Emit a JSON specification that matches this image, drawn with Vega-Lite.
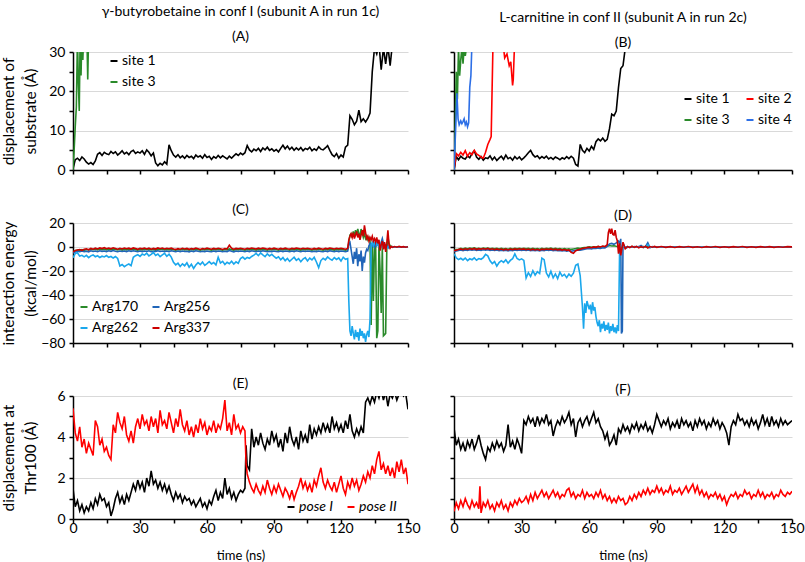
{
"$schema": "https://vega.github.io/schema/vega-lite/v6.json",
"padding": {"left": 1, "top": 5, "right": 0, "bottom": 0},
"background": "white",
"columns": 2,
"bounds": "flush",
"spacing": {"row": 53, "column": 46},
"resolve": {"scale": {"color": "independent"}},
"config": {
 "font": "Lato",
 "view": {"stroke": null},
 "axis": {"domainColor": "#000000", "domainWidth": 1.5, "tickColor": "#000000", "tickWidth": 1.5, "tickSize": 4, "labelFont": "Lato", "labelFontSize": 14, "labelColor": "#000000", "labelPadding": 4, "gridColor": "#d9d9d9", "gridWidth": 1, "titleFont": "Lato", "titleFontSize": 15.5, "titleLineHeight": 21.5, "titleFontWeight": "normal", "titleColor": "#000000", "labelFlush": false, "labelOverlap": false},
 "legend": {"labelFont": "Lato", "labelFontSize": 14, "labelColor": "#000000", "symbolType": "stroke", "symbolStrokeWidth": 2, "symbolSize": 49, "labelOffset": 1, "padding": 0, "rowPadding": 7},
 "title": {"font": "Lato", "fontWeight": "normal", "color": "#000000", "fontSize": 14, "subtitleFont": "Lato", "subtitleColor": "#000000", "subtitleFontSize": 14}
},
"datasets": {
"A": [
{"t":0,"site 1":0.3,"site 3":0},{"t":0.5,"site 3":5},{"t":1,"site 1":2.6,"site 3":11},{"t":1.5,"site 3":16},{"t":2,"site 1":3.0,"site 3":34},{"t":2.4,"site 3":22},{"t":2.8,"site 3":15},{"t":3,"site 1":2.4},{"t":3.2,"site 3":34},{"t":3.6,"site 3":24},{"t":4,"site 1":3.3,"site 3":35},{"t":4.4,"site 3":28},{"t":4.8,"site 3":35},{"t":5,"site 1":2.8},{"t":5.5,"site 3":34},{"t":6,"site 1":2.0},{"t":6.2,"site 3":35},{"t":6.6,"site 3":23},{"t":7,"site 1":1.5,"site 3":35},
{"t":8,"site 1":1.9},{"t":9,"site 1":1.4},{"t":10,"site 1":2.3},{"t":11,"site 1":4.0},{"t":12,"site 1":4.4},{"t":13,"site 1":3.7},{"t":14,"site 1":4.5},{"t":15,"site 1":4.1},{"t":16,"site 1":3.9},{"t":17,"site 1":4.7},{"t":18,"site 1":4.2},{"t":19,"site 1":4.6},{"t":20,"site 1":3.8},{"t":21,"site 1":4.3},{"t":22,"site 1":4.9},{"t":23,"site 1":4.1},{"t":24,"site 1":4.5},{"t":25,"site 1":3.9},{"t":26,"site 1":4.7},{"t":27,"site 1":5.0},{"t":28,"site 1":4.2},{"t":29,"site 1":4.6},{"t":30,"site 1":4.3},{"t":31,"site 1":4.9},{"t":32,"site 1":4.0},{"t":33,"site 1":5.1},{"t":34,"site 1":4.5},{"t":35,"site 1":3.6},{"t":36,"site 1":4.3},{"t":37,"site 1":1.8},{"t":38,"site 1":1.1},{"t":39,"site 1":1.7},{"t":40,"site 1":1.3},{"t":41,"site 1":2.1},{"t":42,"site 1":1.5},{"t":43,"site 1":6.4},{"t":44,"site 1":4.9},{"t":45,"site 1":3.8},{"t":46,"site 1":3.3},{"t":47,"site 1":3.9},{"t":48,"site 1":3.1},{"t":49,"site 1":3.6},{"t":50,"site 1":3.0},{"t":51,"site 1":3.7},{"t":52,"site 1":3.2},{"t":53,"site 1":3.5},{"t":54,"site 1":2.9},{"t":55,"site 1":3.8},{"t":56,"site 1":3.3},{"t":57,"site 1":3.6},{"t":58,"site 1":3.0},{"t":59,"site 1":3.9},{"t":60,"site 1":3.2},{"t":61,"site 1":3.5},{"t":62,"site 1":2.7},{"t":63,"site 1":3.4},{"t":64,"site 1":3.0},{"t":65,"site 1":3.7},{"t":66,"site 1":3.1},{"t":67,"site 1":3.6},{"t":68,"site 1":3.2},{"t":69,"site 1":2.8},{"t":70,"site 1":3.5},{"t":71,"site 1":3.0},{"t":72,"site 1":3.6},{"t":73,"site 1":4.1},{"t":74,"site 1":3.7},{"t":75,"site 1":4.3},{"t":76,"site 1":3.9},{"t":77,"site 1":4.4},{"t":78,"site 1":6.2},{"t":79,"site 1":5.1},{"t":80,"site 1":4.6},{"t":81,"site 1":5.3},{"t":82,"site 1":4.9},{"t":83,"site 1":5.5},{"t":84,"site 1":4.7},{"t":85,"site 1":5.6},{"t":86,"site 1":5.1},{"t":87,"site 1":5.8},{"t":88,"site 1":5.0},{"t":89,"site 1":5.4},{"t":90,"site 1":4.8},{"t":91,"site 1":5.2},{"t":92,"site 1":4.6},{"t":93,"site 1":5.5},{"t":94,"site 1":6.3},{"t":95,"site 1":5.4},{"t":96,"site 1":6.1},{"t":97,"site 1":5.2},{"t":98,"site 1":5.8},{"t":99,"site 1":5.0},{"t":100,"site 1":5.6},{"t":101,"site 1":5.1},{"t":102,"site 1":5.7},{"t":103,"site 1":4.9},{"t":104,"site 1":5.5},{"t":105,"site 1":5.2},{"t":106,"site 1":5.8},{"t":107,"site 1":4.9},{"t":108,"site 1":5.4},{"t":109,"site 1":5.0},{"t":110,"site 1":5.9},{"t":111,"site 1":5.3},{"t":112,"site 1":5.1},{"t":113,"site 1":5.6},{"t":114,"site 1":6.2},{"t":115,"site 1":5.0},{"t":116,"site 1":3.9},{"t":117,"site 1":3.4},{"t":118,"site 1":4.2},{"t":119,"site 1":3.0},{"t":120,"site 1":3.8},{"t":121,"site 1":3.3},{"t":122,"site 1":5.8},{"t":123,"site 1":6.3},{"t":124,"site 1":13.8},{"t":125,"site 1":12.9},{"t":126,"site 1":11.5},{"t":127,"site 1":12.4},{"t":128,"site 1":15.2},{"t":129,"site 1":12.3},{"t":130,"site 1":13.0},{"t":131,"site 1":12.2},{"t":132,"site 1":13.1},{"t":133,"site 1":14.5},{"t":134,"site 1":25},{"t":135,"site 1":31},{"t":136,"site 1":29.5},{"t":137,"site 1":32},{"t":138,"site 1":25.5},{"t":139,"site 1":31},{"t":140,"site 1":27},{"t":141,"site 1":31.5},{"t":142,"site 1":26.5},{"t":143,"site 1":32},{"t":144,"site 1":35},{"t":150,"site 1":36}
],
"B": [
{"t":0,"site 1":0,"site 2":0,"site 3":0,"site 4":0},{"t":0.5,"site 3":9},{"t":0.7,"site 4":10},{"t":1,"site 1":3.4,"site 2":4.2,"site 3":25},{"t":1.3,"site 4":19.5},{"t":1.5,"site 3":18},{"t":1.8,"site 4":13},{"t":2,"site 1":2.6,"site 2":3.6,"site 3":31},{"t":2.3,"site 4":11.5},{"t":2.5,"site 3":24},{"t":3,"site 1":3.5,"site 2":4.5,"site 3":28,"site 4":12.5},{"t":3.5,"site 3":31,"site 4":11.8},{"t":4,"site 1":3.0,"site 2":3.8,"site 3":27,"site 4":12.3},{"t":4.5,"site 3":31,"site 4":13.0},{"t":5,"site 1":2.8,"site 2":4.9,"site 3":29,"site 4":11.5},{"t":5.5,"site 3":31,"site 4":12.2},{"t":6,"site 1":3.6,"site 2":3.5,"site 3":34,"site 4":11},{"t":6.5,"site 4":12},{"t":7,"site 1":3.1,"site 2":4.4,"site 4":21},{"t":7.5,"site 4":24},{"t":8,"site 1":4.2,"site 2":3.9,"site 4":33},
{"t":9,"site 1":4.9,"site 2":5.0},{"t":10,"site 1":3.3,"site 2":4.1},{"t":11,"site 1":2.7,"site 2":3.7},{"t":12,"site 1":3.4,"site 2":3.3},{"t":13,"site 1":2.5,"site 2":3.0},{"t":14,"site 1":3.1,"site 2":4.5},{"t":15,"site 1":2.9,"site 2":6.5},{"t":16,"site 1":3.6,"site 2":7.8},{"t":16.5,"site 2":8.5},{"t":17,"site 1":2.6},{"t":17.3,"site 2":32},{"t":18,"site 1":3.3,"site 2":35},{"t":19,"site 1":2.4},{"t":20,"site 1":3.0},{"t":21,"site 1":3.5},{"t":22,"site 1":2.7,"site 2":31},{"t":22.5,"site 2":28.5},{"t":23,"site 1":3.8},{"t":23.5,"site 2":29.5},{"t":24,"site 1":2.9},{"t":24.5,"site 2":26.5},{"t":25,"site 1":3.2},{"t":25.2,"site 2":27.5},{"t":26,"site 1":2.5,"site 2":21.5},{"t":26.3,"site 2":23},{"t":26.8,"site 2":31},{"t":27,"site 1":3.4,"site 2":35},
{"t":28,"site 1":2.8},{"t":29,"site 1":3.3},{"t":30,"site 1":2.6},{"t":31,"site 1":3.1},{"t":32,"site 1":3.7},{"t":33,"site 1":4.4},{"t":34,"site 1":5.0},{"t":35,"site 1":3.9},{"t":36,"site 1":3.3},{"t":37,"site 1":3.6},{"t":38,"site 1":2.9},{"t":39,"site 1":3.4},{"t":40,"site 1":3.0},{"t":41,"site 1":3.5},{"t":42,"site 1":2.8},{"t":43,"site 1":3.2},{"t":44,"site 1":2.7},{"t":45,"site 1":3.3},{"t":46,"site 1":3.0},{"t":47,"site 1":2.6},{"t":48,"site 1":3.1},{"t":49,"site 1":2.8},{"t":50,"site 1":3.4},{"t":51,"site 1":2.9},{"t":52,"site 1":3.5},{"t":53,"site 1":3.0},{"t":54,"site 1":1.4},{"t":55,"site 1":1.0},{"t":56,"site 1":6.5},{"t":57,"site 1":5.0},{"t":58,"site 1":4.4},{"t":59,"site 1":5.5},{"t":60,"site 1":4.8},{"t":61,"site 1":6.0},{"t":62,"site 1":5.2},{"t":63,"site 1":7.2},{"t":64,"site 1":7.9},{"t":65,"site 1":7.4},{"t":66,"site 1":8.1},{"t":67,"site 1":7.3},{"t":68,"site 1":7.8},{"t":69,"site 1":10.5},{"t":70,"site 1":14.2},{"t":71,"site 1":13.8},{"t":72,"site 1":15.0},{"t":73,"site 1":21},{"t":74,"site 1":25.8},{"t":75,"site 1":26.5},{"t":76,"site 1":31},{"t":77,"site 1":35}
],
"C": [
{"t":0,"Arg170":-4,"Arg256":-5,"Arg262":-9,"Arg337":-4},{"t":1,"Arg170":-3.2,"Arg256":-4.1,"Arg262":-5.5,"Arg337":-3.0},{"t":2,"Arg170":-2.6,"Arg256":-3.6,"Arg262":-4.8,"Arg337":-2.5},{"t":3,"Arg170":-3.0,"Arg256":-3.9,"Arg262":-7.6,"Arg337":-2.1},{"t":4,"Arg170":-2.2,"Arg256":-3.3,"Arg262":-6.9,"Arg337":-2.8},{"t":5,"Arg170":-2.8,"Arg256":-3.8,"Arg262":-8.2,"Arg337":-1.9},{"t":6,"Arg170":-2.1,"Arg256":-3.5,"Arg262":-7.0,"Arg337":-1.5},{"t":7,"Arg170":-2.5,"Arg256":-4.0,"Arg262":-8.9,"Arg337":-2.3},{"t":8,"Arg170":-1.8,"Arg256":-3.2,"Arg262":-7.4,"Arg337":-1.2},{"t":9,"Arg170":-2.3,"Arg256":-3.7,"Arg262":-6.6,"Arg337":-1.8},{"t":10,"Arg170":-1.9,"Arg256":-3.4,"Arg262":-8.1,"Arg337":-1.0},{"t":11,"Arg170":-2.4,"Arg256":-3.9,"Arg262":-7.3,"Arg337":-1.6},{"t":12,"Arg170":-1.7,"Arg256":-3.1,"Arg262":-8.8,"Arg337":-0.8},{"t":13,"Arg170":-2.2,"Arg256":-3.6,"Arg262":-7.7,"Arg337":-1.3},{"t":14,"Arg170":-1.8,"Arg256":-3.3,"Arg262":-8.3,"Arg337":-0.6},{"t":15,"Arg170":-2.5,"Arg256":-3.8,"Arg262":-7.1,"Arg337":-1.4},{"t":16,"Arg170":-1.9,"Arg256":-3.2,"Arg262":-8.6,"Arg337":-0.9},{"t":17,"Arg170":-2.3,"Arg256":-3.6,"Arg262":-7.9,"Arg337":-1.5},{"t":18,"Arg170":-1.6,"Arg256":-3.0,"Arg262":-9.2,"Arg337":-0.7},{"t":19,"Arg170":-2.1,"Arg256":-3.5,"Arg262":-8.0,"Arg337":-1.2},{"t":20,"Arg170":-2.4,"Arg256":-3.9,"Arg262":-9.5,"Arg337":-1.8},{"t":21,"Arg170":-1.9,"Arg256":-3.4,"Arg262":-15.8,"Arg337":-1.1},{"t":22,"Arg170":-2.6,"Arg256":-3.7,"Arg262":-14.6,"Arg337":-1.6},{"t":23,"Arg170":-2.0,"Arg256":-3.3,"Arg262":-16.4,"Arg337":-0.9},{"t":24,"Arg170":-2.4,"Arg256":-3.8,"Arg262":-15.1,"Arg337":-1.4},{"t":25,"Arg170":-1.8,"Arg256":-3.2,"Arg262":-14.2,"Arg337":-1.0},{"t":26,"Arg170":-2.3,"Arg256":-3.6,"Arg262":-15.5,"Arg337":-1.7},{"t":27,"Arg170":-1.7,"Arg256":-3.1,"Arg262":-8.6,"Arg337":-0.8},{"t":28,"Arg170":-2.2,"Arg256":-3.5,"Arg262":-7.2,"Arg337":-1.3},{"t":29,"Arg170":-2.6,"Arg256":-3.9,"Arg262":-6.4,"Arg337":-1.9},{"t":30,"Arg170":-2.0,"Arg256":-3.4,"Arg262":-7.8,"Arg337":-1.1},{"t":31,"Arg170":-2.5,"Arg256":-3.8,"Arg262":-5.9,"Arg337":-1.5},{"t":32,"Arg170":-1.9,"Arg256":-3.3,"Arg262":-6.8,"Arg337":-0.9},{"t":33,"Arg170":-2.3,"Arg256":-3.7,"Arg262":-5.1,"Arg337":-1.6},{"t":34,"Arg170":-1.8,"Arg256":-3.2,"Arg262":-7.5,"Arg337":-1.0},{"t":35,"Arg170":-2.4,"Arg256":-3.9,"Arg262":-6.2,"Arg337":-1.8},{"t":36,"Arg170":-2.0,"Arg256":-3.5,"Arg262":-4.6,"Arg337":-1.2},{"t":37,"Arg170":-2.6,"Arg256":-3.6,"Arg262":-7.0,"Arg337":-1.7},{"t":38,"Arg170":-1.9,"Arg256":-3.1,"Arg262":-5.8,"Arg337":-0.8},{"t":39,"Arg170":-2.3,"Arg256":-3.7,"Arg262":-8.1,"Arg337":-1.4},{"t":40,"Arg170":-1.7,"Arg256":-3.3,"Arg262":-6.5,"Arg337":-0.9},{"t":41,"Arg170":-2.5,"Arg256":-3.8,"Arg262":-5.3,"Arg337":-1.6},{"t":42,"Arg170":-2.0,"Arg256":-3.4,"Arg262":-7.7,"Arg337":-1.1},{"t":43,"Arg170":-2.4,"Arg256":-3.9,"Arg262":-6.0,"Arg337":-1.5},{"t":44,"Arg170":-1.8,"Arg256":-3.2,"Arg262":-8.4,"Arg337":-1.0},{"t":45,"Arg170":-2.2,"Arg256":-3.6,"Arg262":-12.8,"Arg337":-1.7},{"t":46,"Arg170":-2.7,"Arg256":-3.9,"Arg262":-14.9,"Arg337":-2.0},{"t":47,"Arg170":-2.1,"Arg256":-3.4,"Arg262":-13.5,"Arg337":-1.4},{"t":48,"Arg170":-2.5,"Arg256":-3.8,"Arg262":-16.2,"Arg337":-1.8},{"t":49,"Arg170":-1.9,"Arg256":-3.3,"Arg262":-14.0,"Arg337":-1.1},{"t":50,"Arg170":-2.4,"Arg256":-3.7,"Arg262":-15.6,"Arg337":-1.6},{"t":51,"Arg170":-2.0,"Arg256":-3.5,"Arg262":-13.2,"Arg337":-1.2},{"t":52,"Arg170":-2.6,"Arg256":-4.0,"Arg262":-16.8,"Arg337":-1.9},{"t":53,"Arg170":-2.1,"Arg256":-3.4,"Arg262":-14.4,"Arg337":-1.3},{"t":54,"Arg170":-2.5,"Arg256":-3.8,"Arg262":-17.9,"Arg337":-1.7},{"t":55,"Arg170":-1.9,"Arg256":-3.2,"Arg262":-15.0,"Arg337":-0.9},{"t":56,"Arg170":-2.3,"Arg256":-3.6,"Arg262":-13.1,"Arg337":-1.5},{"t":57,"Arg170":-2.7,"Arg256":-3.9,"Arg262":-14.7,"Arg337":-2.1},{"t":58,"Arg170":-2.0,"Arg256":-3.5,"Arg262":-12.5,"Arg337":-1.3},{"t":59,"Arg170":-2.4,"Arg256":-3.8,"Arg262":-15.3,"Arg337":-1.6},{"t":60,"Arg170":-1.8,"Arg256":-3.3,"Arg262":-13.8,"Arg337":-1.0},{"t":61,"Arg170":-2.2,"Arg256":-3.7,"Arg262":-12.2,"Arg337":-1.4},{"t":62,"Arg170":-2.6,"Arg256":-4.0,"Arg262":-14.1,"Arg337":-1.9},{"t":63,"Arg170":-2.0,"Arg256":-3.4,"Arg262":-12.9,"Arg337":-1.2},{"t":64,"Arg170":-2.4,"Arg256":-3.8,"Arg262":-15.0,"Arg337":-1.7},{"t":65,"Arg170":-1.9,"Arg256":-3.3,"Arg262":-8.6,"Arg337":-1.1},{"t":66,"Arg170":-2.3,"Arg256":-3.6,"Arg262":-13.4,"Arg337":-1.5},{"t":67,"Arg170":-2.7,"Arg256":-3.9,"Arg262":-12.0,"Arg337":-2.0},{"t":68,"Arg170":-2.1,"Arg256":-3.5,"Arg262":-14.6,"Arg337":-1.3},{"t":69,"Arg170":-2.5,"Arg256":-3.8,"Arg262":-12.7,"Arg337":-1.6},{"t":70,"Arg170":-1.6,"Arg256":-3.0,"Arg262":-13.9,"Arg337":1.5},{"t":71,"Arg170":-2.2,"Arg256":-3.6,"Arg262":-11.8,"Arg337":-1.0},{"t":72,"Arg170":-2.6,"Arg256":-4.0,"Arg262":-14.2,"Arg337":-1.8},{"t":73,"Arg170":-2.0,"Arg256":-3.4,"Arg262":-12.4,"Arg337":-1.2},{"t":74,"Arg170":-2.4,"Arg256":-3.7,"Arg262":-13.6,"Arg337":-1.5},{"t":75,"Arg170":-1.9,"Arg256":-3.3,"Arg262":-9.6,"Arg337":-1.0},{"t":76,"Arg170":-2.3,"Arg256":-3.6,"Arg262":-8.4,"Arg337":-1.4},{"t":77,"Arg170":-2.6,"Arg256":-3.9,"Arg262":-10.1,"Arg337":-1.8},{"t":78,"Arg170":-2.0,"Arg256":-3.4,"Arg262":-8.7,"Arg337":-1.1},{"t":79,"Arg170":-2.4,"Arg256":-3.8,"Arg262":-9.4,"Arg337":-1.5},{"t":80,"Arg170":-1.8,"Arg256":-3.2,"Arg262":-7.9,"Arg337":-0.9},{"t":81,"Arg170":-2.2,"Arg256":-3.6,"Arg262":-6.8,"Arg337":-1.3},{"t":82,"Arg170":-2.6,"Arg256":-3.9,"Arg262":-5.4,"Arg337":-1.7},{"t":83,"Arg170":-2.0,"Arg256":-3.3,"Arg262":-7.2,"Arg337":-1.0},{"t":84,"Arg170":-2.4,"Arg256":-3.7,"Arg262":-4.9,"Arg337":-1.4},{"t":85,"Arg170":-1.9,"Arg256":-3.2,"Arg262":-6.6,"Arg337":-0.8},{"t":86,"Arg170":-2.3,"Arg256":-3.6,"Arg262":-8.0,"Arg337":-1.3},{"t":87,"Arg170":-2.7,"Arg256":-4.0,"Arg262":-5.7,"Arg337":-1.8},{"t":88,"Arg170":-2.1,"Arg256":-3.5,"Arg262":-7.4,"Arg337":-1.2},{"t":89,"Arg170":-2.5,"Arg256":-3.8,"Arg262":-6.1,"Arg337":-1.6},{"t":90,"Arg170":-1.9,"Arg256":-3.3,"Arg262":-7.8,"Arg337":-1.0},{"t":91,"Arg170":-2.3,"Arg256":-3.7,"Arg262":-9.3,"Arg337":-1.4},{"t":92,"Arg170":-2.7,"Arg256":-4.0,"Arg262":-8.1,"Arg337":-1.9},{"t":93,"Arg170":-2.1,"Arg256":-3.4,"Arg262":-10.6,"Arg337":-1.2},{"t":94,"Arg170":-2.5,"Arg256":-3.8,"Arg262":-8.8,"Arg337":-1.6},{"t":95,"Arg170":-1.9,"Arg256":-3.3,"Arg262":-11.4,"Arg337":-1.0},{"t":96,"Arg170":-2.3,"Arg256":-3.6,"Arg262":-9.5,"Arg337":-1.5},{"t":97,"Arg170":-2.6,"Arg256":-3.9,"Arg262":-12.0,"Arg337":-1.8},{"t":98,"Arg170":-2.0,"Arg256":-3.4,"Arg262":-10.2,"Arg337":-1.1},{"t":99,"Arg170":-2.4,"Arg256":-3.8,"Arg262":-8.5,"Arg337":-1.5},{"t":100,"Arg170":-1.8,"Arg256":-3.2,"Arg262":-11.1,"Arg337":-0.9},{"t":101,"Arg170":-2.2,"Arg256":-3.6,"Arg262":-9.7,"Arg337":-1.3},{"t":102,"Arg170":-2.6,"Arg256":-3.9,"Arg262":-12.3,"Arg337":-1.7},{"t":103,"Arg170":-2.0,"Arg256":-3.4,"Arg262":-10.0,"Arg337":-1.1},{"t":104,"Arg170":-2.4,"Arg256":-3.7,"Arg262":-8.9,"Arg337":-1.5},{"t":105,"Arg170":-1.9,"Arg256":-3.3,"Arg262":-11.6,"Arg337":-1.0},{"t":106,"Arg170":-2.3,"Arg256":-3.6,"Arg262":-9.2,"Arg337":-1.4},{"t":107,"Arg170":-2.7,"Arg256":-4.0,"Arg262":-10.8,"Arg337":-1.9},{"t":108,"Arg170":-2.1,"Arg256":-3.5,"Arg262":-8.6,"Arg337":-1.2},{"t":109,"Arg170":-2.5,"Arg256":-3.8,"Arg262":-12.5,"Arg337":-1.6},{"t":110,"Arg170":-1.9,"Arg256":-3.3,"Arg262":-17.2,"Arg337":-1.0},{"t":111,"Arg170":-2.3,"Arg256":-3.7,"Arg262":-11.3,"Arg337":-1.4},{"t":112,"Arg170":-2.6,"Arg256":-3.9,"Arg262":-9.4,"Arg337":-1.8},{"t":113,"Arg170":-2.0,"Arg256":-3.4,"Arg262":-10.7,"Arg337":-1.1},{"t":114,"Arg170":-2.4,"Arg256":-3.8,"Arg262":-8.3,"Arg337":-1.5},{"t":115,"Arg170":-1.8,"Arg256":-3.2,"Arg262":-9.9,"Arg337":-0.9},{"t":116,"Arg170":-2.2,"Arg256":-3.6,"Arg262":-11.0,"Arg337":-1.3},{"t":117,"Arg170":-2.6,"Arg256":-3.9,"Arg262":-8.8,"Arg337":-1.7},{"t":118,"Arg170":-2.0,"Arg256":-3.4,"Arg262":-10.4,"Arg337":-1.1},{"t":119,"Arg170":-2.4,"Arg256":-3.8,"Arg262":-9.1,"Arg337":-1.5},{"t":120,"Arg170":-1.9,"Arg256":-3.3,"Arg262":-11.7,"Arg337":-1.0},{"t":121,"Arg170":-2.3,"Arg256":-3.6,"Arg262":-8.5,"Arg337":-1.4},{"t":122,"Arg170":-2.7,"Arg256":-4.0,"Arg262":-10.2,"Arg337":-1.8},{"t":123,"Arg170":-2.2,"Arg256":-3.5,"Arg262":-9.6,"Arg337":-1.2},
{"t":123.5,"Arg170":4,"Arg256":3,"Arg262":-45,"Arg337":6},{"t":124,"Arg170":10,"Arg256":4,"Arg262":-70,"Arg337":9},{"t":124.5,"Arg170":11,"Arg256":-2,"Arg262":-74,"Arg337":11},{"t":125,"Arg170":8,"Arg256":-8,"Arg262":-66,"Arg337":8},{"t":125.5,"Arg170":13,"Arg256":-14,"Arg262":-72,"Arg337":12},{"t":126,"Arg170":9,"Arg256":-4,"Arg262":-77,"Arg337":7},{"t":126.5,"Arg170":14,"Arg256":-10,"Arg262":-69,"Arg337":10},{"t":127,"Arg170":10,"Arg256":-1,"Arg262":-75,"Arg337":13},{"t":127.5,"Arg170":15,"Arg256":-16,"Arg262":-71,"Arg337":8},{"t":128,"Arg170":11,"Arg256":-6,"Arg262":-78,"Arg337":11},{"t":128.5,"Arg170":9,"Arg256":-12,"Arg262":-68,"Arg337":6},{"t":129,"Arg170":15,"Arg256":-3,"Arg262":-74,"Arg337":10},{"t":129.5,"Arg170":12,"Arg256":-20,"Arg262":-70,"Arg337":14},{"t":130,"Arg170":8,"Arg256":-8,"Arg262":-76,"Arg337":9},{"t":130.5,"Arg170":11,"Arg256":-13,"Arg262":-72,"Arg337":18},{"t":131,"Arg170":7,"Arg256":-5,"Arg262":-79,"Arg337":12},{"t":131.5,"Arg170":9,"Arg256":-2,"Arg262":-73,"Arg337":7},{"t":132,"Arg170":6,"Arg256":-3,"Arg262":-70,"Arg337":9},{"t":132.5,"Arg170":8,"Arg256":1,"Arg262":-75,"Arg337":5},{"t":133,"Arg170":5,"Arg256":3,"Arg262":-60,"Arg337":8},{"t":133.5,"Arg170":-65,"Arg256":2,"Arg262":2,"Arg337":6},{"t":134,"Arg170":3,"Arg256":1,"Arg262":4,"Arg337":9},{"t":134.5,"Arg170":-45,"Arg256":3,"Arg262":1,"Arg337":5},{"t":135,"Arg170":2,"Arg256":0,"Arg262":3,"Arg337":7},{"t":135.5,"Arg170":4,"Arg256":2,"Arg262":5,"Arg337":4},{"t":136,"Arg170":-76,"Arg256":1,"Arg262":2,"Arg337":8},{"t":136.5,"Arg170":-70,"Arg256":3,"Arg262":4,"Arg337":3},{"t":137,"Arg170":4,"Arg256":2,"Arg262":1,"Arg337":6},{"t":137.5,"Arg170":-20,"Arg256":0,"Arg262":3,"Arg337":-3},{"t":138,"Arg170":-55,"Arg256":4,"Arg262":2,"Arg337":2},{"t":138.5,"Arg170":1,"Arg256":7,"Arg262":0,"Arg337":5},{"t":139,"Arg170":-74,"Arg256":3,"Arg262":2,"Arg337":-2},{"t":139.5,"Arg170":-73,"Arg256":1,"Arg262":0,"Arg337":4},{"t":140,"Arg170":-72,"Arg256":2,"Arg262":1,"Arg337":-4},{"t":140.5,"Arg170":-2,"Arg256":0,"Arg262":-1,"Arg337":3},{"t":141,"Arg170":8,"Arg256":1,"Arg262":0,"Arg337":14},{"t":141.5,"Arg170":3,"Arg256":-1,"Arg262":1,"Arg337":2},{"t":142,"Arg170":1,"Arg256":0,"Arg262":0,"Arg337":-1},{"t":142.5,"Arg170":0.5,"Arg256":0,"Arg262":0,"Arg337":0.5},
{"t":143,"Arg170":0.0,"Arg256":0.3,"Arg262":0.2,"Arg337":-0.3},{"t":144,"Arg170":0.2,"Arg256":-0.1,"Arg262":0.1,"Arg337":0.4},{"t":145,"Arg170":-0.1,"Arg256":0.2,"Arg262":-0.2,"Arg337":-0.2},{"t":146,"Arg170":0.1,"Arg256":-0.2,"Arg262":0.1,"Arg337":0.5},{"t":147,"Arg170":-0.2,"Arg256":0.1,"Arg262":0.0,"Arg337":-0.1},{"t":148,"Arg170":0.1,"Arg256":-0.1,"Arg262":0.2,"Arg337":0.3},{"t":149,"Arg170":0.0,"Arg256":0.2,"Arg262":-0.1,"Arg337":-0.2},{"t":150,"Arg170":0.1,"Arg256":0.0,"Arg262":0.1,"Arg337":0.2}
],
"D": [
{"t":0,"Arg170":-3,"Arg256":-4,"Arg262":-5.6,"Arg337":-3.2},{"t":1,"Arg170":-2.2,"Arg256":-3.3,"Arg262":-9.0,"Arg337":-2.6},{"t":2,"Arg170":-1.8,"Arg256":-2.9,"Arg262":-10.5,"Arg337":-2.0},{"t":3,"Arg170":-1.2,"Arg256":-2.5,"Arg262":-9.4,"Arg337":-1.6},{"t":4,"Arg170":-1.6,"Arg256":-3.0,"Arg262":-10.8,"Arg337":-2.2},{"t":5,"Arg170":-1.0,"Arg256":-2.4,"Arg262":-9.2,"Arg337":-1.5},{"t":6,"Arg170":-1.4,"Arg256":-2.8,"Arg262":-11.3,"Arg337":-2.0},{"t":7,"Arg170":-0.9,"Arg256":-2.2,"Arg262":-9.8,"Arg337":-1.3},{"t":8,"Arg170":-1.3,"Arg256":-2.7,"Arg262":-10.6,"Arg337":-1.9},{"t":9,"Arg170":-0.8,"Arg256":-2.3,"Arg262":-9.1,"Arg337":-1.2},{"t":10,"Arg170":-1.5,"Arg256":-2.9,"Arg262":-11.0,"Arg337":-2.1},{"t":11,"Arg170":-1.0,"Arg256":-2.4,"Arg262":-9.6,"Arg337":-1.4},{"t":12,"Arg170":-1.4,"Arg256":-2.8,"Arg262":-10.2,"Arg337":-1.9},{"t":13,"Arg170":-0.9,"Arg256":-2.3,"Arg262":-8.8,"Arg337":-1.3},{"t":14,"Arg170":-1.3,"Arg256":-2.6,"Arg262":-6.2,"Arg337":-1.8},{"t":15,"Arg170":-0.8,"Arg256":-2.2,"Arg262":-7.4,"Arg337":-1.2},{"t":16,"Arg170":-1.4,"Arg256":-2.8,"Arg262":-11.5,"Arg337":-2.0},{"t":17,"Arg170":-1.0,"Arg256":-2.5,"Arg262":-13.8,"Arg337":-1.5},{"t":18,"Arg170":-1.5,"Arg256":-2.9,"Arg262":-12.2,"Arg337":-2.2},{"t":19,"Arg170":-1.1,"Arg256":-2.4,"Arg262":-15.9,"Arg337":-1.6},{"t":20,"Arg170":-1.6,"Arg256":-3.0,"Arg262":-13.0,"Arg337":-2.3},{"t":21,"Arg170":-1.2,"Arg256":-2.6,"Arg262":-11.4,"Arg337":-1.7},{"t":22,"Arg170":-1.7,"Arg256":-3.1,"Arg262":-12.8,"Arg337":-2.4},{"t":23,"Arg170":-1.3,"Arg256":-2.7,"Arg262":-10.6,"Arg337":-1.8},{"t":24,"Arg170":-1.8,"Arg256":-3.2,"Arg262":-13.5,"Arg337":-2.5},{"t":25,"Arg170":-1.2,"Arg256":-2.6,"Arg262":-11.2,"Arg337":-1.7},{"t":26,"Arg170":-1.6,"Arg256":-3.0,"Arg262":-9.8,"Arg337":-2.2},{"t":27,"Arg170":-1.1,"Arg256":-2.5,"Arg262":-5.8,"Arg337":-1.6},{"t":28,"Arg170":-1.5,"Arg256":-2.9,"Arg262":-9.6,"Arg337":-2.1},{"t":29,"Arg170":-1.0,"Arg256":-2.4,"Arg262":-10.8,"Arg337":-1.5},{"t":30,"Arg170":-1.4,"Arg256":-2.8,"Arg262":-9.9,"Arg337":-2.0},{"t":31,"Arg170":-1.0,"Arg256":-2.4,"Arg262":-11.2,"Arg337":-1.6},{"t":32,"Arg170":-1.5,"Arg256":-2.9,"Arg262":-25.8,"Arg337":-2.3},{"t":33,"Arg170":-1.1,"Arg256":-2.5,"Arg262":-21.4,"Arg337":-1.7},{"t":34,"Arg170":-1.6,"Arg256":-3.0,"Arg262":-24.6,"Arg337":-2.4},{"t":35,"Arg170":-1.2,"Arg256":-2.6,"Arg262":-19.8,"Arg337":-1.8},{"t":36,"Arg170":-1.7,"Arg256":-3.1,"Arg262":-23.5,"Arg337":-2.5},{"t":37,"Arg170":-1.3,"Arg256":-2.7,"Arg262":-20.6,"Arg337":-1.9},{"t":38,"Arg170":-1.8,"Arg256":-3.2,"Arg262":-22.1,"Arg337":-2.6},{"t":39,"Arg170":-1.2,"Arg256":-2.6,"Arg262":-9.2,"Arg337":-1.8},{"t":40,"Arg170":-1.6,"Arg256":-3.0,"Arg262":-10.5,"Arg337":-2.2},{"t":41,"Arg170":-1.1,"Arg256":-2.5,"Arg262":-21.7,"Arg337":-1.7},{"t":42,"Arg170":-1.5,"Arg256":-2.9,"Arg262":-24.9,"Arg337":-2.1},{"t":43,"Arg170":-1.0,"Arg256":-2.4,"Arg262":-20.3,"Arg337":-1.6},{"t":44,"Arg170":-1.6,"Arg256":-3.0,"Arg262":-25.7,"Arg337":-2.3},{"t":45,"Arg170":-1.2,"Arg256":-2.6,"Arg262":-22.4,"Arg337":-1.8},{"t":46,"Arg170":-1.7,"Arg256":-3.1,"Arg262":-26.3,"Arg337":-2.4},{"t":47,"Arg170":-1.3,"Arg256":-2.8,"Arg262":-21.0,"Arg337":-2.0},{"t":48,"Arg170":-1.8,"Arg256":-3.3,"Arg262":-24.2,"Arg337":-2.6},{"t":49,"Arg170":-1.4,"Arg256":-2.9,"Arg262":-22.8,"Arg337":-2.1},{"t":50,"Arg170":-1.9,"Arg256":-3.4,"Arg262":-25.5,"Arg337":-2.8},{"t":51,"Arg170":-1.5,"Arg256":-3.0,"Arg262":-22.6,"Arg337":-2.4},{"t":52,"Arg170":-2.0,"Arg256":-3.6,"Arg262":-24.4,"Arg337":-4.5},{"t":53,"Arg170":-1.6,"Arg256":-3.2,"Arg262":-21.8,"Arg337":-5.2},{"t":54,"Arg170":-1.3,"Arg256":-2.8,"Arg262":-15.3,"Arg337":-3.1},{"t":55,"Arg170":-0.9,"Arg256":-2.4,"Arg262":-14.2,"Arg337":-2.4},{"t":56,"Arg170":-1.2,"Arg256":-2.7,"Arg262":-23.8,"Arg337":-1.8},{"t":57,"Arg170":-0.7,"Arg256":-2.2,"Arg262":-50,"Arg337":-1.2},{"t":57.5,"Arg262":-68},{"t":58,"Arg170":-0.4,"Arg256":-1.8,"Arg262":-47,"Arg337":-0.8},{"t":58.5,"Arg262":-55},{"t":59,"Arg170":-0.2,"Arg256":-1.5,"Arg262":-45,"Arg337":-0.5},{"t":60,"Arg170":0.1,"Arg256":-1.2,"Arg262":-52,"Arg337":-0.2},{"t":60.5,"Arg262":-48},{"t":61,"Arg170":-0.3,"Arg256":-1.6,"Arg262":-56,"Arg337":-0.6},{"t":61.5,"Arg262":-46},{"t":62,"Arg170":0.2,"Arg256":-1.0,"Arg262":-53,"Arg337":0.1},{"t":62.5,"Arg262":-50},{"t":63,"Arg170":-0.1,"Arg256":-1.3,"Arg262":-58,"Arg337":-0.3},{"t":63.5,"Arg262":-63},{"t":64,"Arg170":0.3,"Arg256":-0.9,"Arg262":-66,"Arg337":0.5},{"t":64.5,"Arg262":-61},{"t":65,"Arg170":0.0,"Arg256":-1.1,"Arg262":-71,"Arg337":0.0},{"t":65.5,"Arg262":-64},{"t":66,"Arg170":0.4,"Arg256":-0.6,"Arg262":-68,"Arg337":0.8},{"t":66.5,"Arg262":-62},{"t":67,"Arg170":0.1,"Arg256":-0.8,"Arg262":-70,"Arg337":0.3},{"t":67.5,"Arg262":-65},{"t":68,"Arg170":0.6,"Arg256":0.5,"Arg262":-69,"Arg337":2.0},{"t":68.5,"Arg262":-63,"Arg337":12},{"t":69,"Arg170":1.2,"Arg256":2.5,"Arg262":-72,"Arg337":15.3},{"t":69.5,"Arg262":-66,"Arg337":11},{"t":70,"Arg170":0.8,"Arg256":3.0,"Arg262":-70,"Arg337":15.3},{"t":70.5,"Arg262":-64,"Arg337":10.5},{"t":71,"Arg170":1.0,"Arg256":2.2,"Arg262":-71,"Arg337":10},{"t":71.5,"Arg262":-67,"Arg337":14},{"t":72,"Arg170":0.6,"Arg256":3.5,"Arg262":-72,"Arg337":8},{"t":72.5,"Arg262":-65,"Arg337":5},{"t":73,"Arg170":0.3,"Arg256":5,"Arg262":-70,"Arg337":-5.5},{"t":73.5,"Arg256":2,"Arg262":-2,"Arg337":3},{"t":74,"Arg170":-0.5,"Arg256":6.8,"Arg262":1.0,"Arg337":-7},{"t":74.3,"Arg256":-72},{"t":74.7,"Arg256":-70},{"t":75,"Arg170":0.2,"Arg256":3,"Arg262":0.5,"Arg337":4},{"t":76,"Arg170":0.0,"Arg256":-1,"Arg262":0.2,"Arg337":-1.5},
{"t":77,"Arg170":0.2,"Arg256":-0.3,"Arg262":0.1,"Arg337":0.4},{"t":78,"Arg170":-0.1,"Arg256":0.2,"Arg262":-0.2,"Arg337":-0.5},{"t":79,"Arg170":0.3,"Arg256":-0.2,"Arg262":0.2,"Arg337":0.6},{"t":80,"Arg170":0.0,"Arg256":0.4,"Arg262":-0.1,"Arg337":-0.3},{"t":81,"Arg170":0.2,"Arg256":-0.1,"Arg262":0.3,"Arg337":0.5},{"t":82,"Arg170":-0.2,"Arg256":0.3,"Arg262":0.0,"Arg337":-0.6},{"t":83,"Arg170":0.1,"Arg256":1.2,"Arg262":0.4,"Arg337":0.3},{"t":84,"Arg170":0.3,"Arg256":-0.4,"Arg262":-0.2,"Arg337":-0.4},{"t":85,"Arg170":-0.1,"Arg256":0.5,"Arg262":0.3,"Arg337":0.7},{"t":86,"Arg170":0.2,"Arg256":3.5,"Arg262":2.0,"Arg337":-0.8},{"t":87,"Arg170":0.0,"Arg256":-0.6,"Arg262":-0.3,"Arg337":0.4},{"t":88,"Arg170":0.2,"Arg256":0.3,"Arg262":0.1,"Arg337":-0.2},{"t":89,"Arg170":-0.1,"Arg256":-0.2,"Arg262":0.2,"Arg337":0.5},{"t":90,"Arg170":0.1,"Arg256":0.2,"Arg262":-0.1,"Arg337":-0.3},{"t":92,"Arg170":-0.1,"Arg256":0.1,"Arg262":-0.2,"Arg337":0.4},{"t":94,"Arg170":0.0,"Arg256":0.2,"Arg262":0.0,"Arg337":-0.3},{"t":96,"Arg170":-0.1,"Arg256":0.1,"Arg262":-0.1,"Arg337":0.3},{"t":98,"Arg170":0.0,"Arg256":0.1,"Arg262":-0.1,"Arg337":-0.4},{"t":100,"Arg170":-0.1,"Arg256":0.2,"Arg262":0.0,"Arg337":0.3},{"t":102,"Arg170":0.1,"Arg256":-0.1,"Arg262":0.1,"Arg337":-0.2},{"t":104,"Arg170":0.0,"Arg256":0.1,"Arg262":-0.1,"Arg337":0.4},{"t":106,"Arg170":0.1,"Arg256":-0.2,"Arg262":0.1,"Arg337":-0.3},{"t":108,"Arg170":-0.1,"Arg256":0.1,"Arg262":0.0,"Arg337":0.2},{"t":110,"Arg170":0.1,"Arg256":0.0,"Arg262":0.1,"Arg337":-0.4},{"t":112,"Arg170":0.0,"Arg256":0.2,"Arg262":-0.1,"Arg337":0.3},{"t":114,"Arg170":0.1,"Arg256":-0.1,"Arg262":0.1,"Arg337":-0.2},{"t":116,"Arg170":-0.1,"Arg256":0.1,"Arg262":0.0,"Arg337":0.4},{"t":118,"Arg170":0.1,"Arg256":-0.1,"Arg262":0.1,"Arg337":-0.3},{"t":120,"Arg170":0.0,"Arg256":0.2,"Arg262":-0.1,"Arg337":0.2},{"t":122,"Arg170":0.1,"Arg256":-0.1,"Arg262":0.1,"Arg337":-0.3},{"t":124,"Arg170":-0.1,"Arg256":0.1,"Arg262":0.0,"Arg337":0.3},{"t":126,"Arg170":0.1,"Arg256":0.0,"Arg262":0.1,"Arg337":-0.2},{"t":128,"Arg170":0.0,"Arg256":0.1,"Arg262":-0.1,"Arg337":0.4},{"t":130,"Arg170":0.1,"Arg256":-0.1,"Arg262":0.1,"Arg337":-0.3},{"t":132,"Arg170":-0.1,"Arg256":0.2,"Arg262":0.0,"Arg337":0.2},{"t":134,"Arg170":0.1,"Arg256":-0.1,"Arg262":0.1,"Arg337":-0.3},{"t":136,"Arg170":0.0,"Arg256":0.1,"Arg262":-0.1,"Arg337":0.3},{"t":138,"Arg170":0.1,"Arg256":-0.1,"Arg262":0.1,"Arg337":-0.2},{"t":140,"Arg170":-0.1,"Arg256":0.1,"Arg262":0.0,"Arg337":0.3},{"t":142,"Arg170":0.1,"Arg256":0.0,"Arg262":0.1,"Arg337":-0.3},{"t":144,"Arg170":0.0,"Arg256":0.1,"Arg262":-0.1,"Arg337":0.2},{"t":146,"Arg170":0.1,"Arg256":-0.1,"Arg262":0.1,"Arg337":-0.2},{"t":148,"Arg170":-0.1,"Arg256":0.1,"Arg262":0.0,"Arg337":0.3},{"t":150,"Arg170":0.1,"Arg256":0.0,"Arg262":0.1,"Arg337":0.1}
],
"E": [
{"t":0,"pose I":1.5,"pose II":5.4},{"t":1,"pose I":0.6,"pose II":4.2},{"t":2,"pose I":0.9,"pose II":3.8},{"t":3,"pose I":0.4,"pose II":4.5},{"t":4,"pose I":0.7,"pose II":3.5},{"t":5,"pose I":0.3,"pose II":3.9},{"t":6,"pose I":0.6,"pose II":3.2},{"t":7,"pose I":0.4,"pose II":3.7},{"t":8,"pose I":0.8,"pose II":3.4},{"t":9,"pose I":0.5,"pose II":3.1},{"t":10,"pose I":1.0,"pose II":4.8},{"t":11,"pose I":0.7,"pose II":4.5},{"t":12,"pose I":1.2,"pose II":3.6},{"t":13,"pose I":0.9,"pose II":3.9},{"t":14,"pose I":1.0,"pose II":3.3},{"t":15,"pose I":0.6,"pose II":3.5},{"t":16,"pose I":0.8,"pose II":3.1},{"t":17,"pose I":0.15,"pose II":2.9},{"t":18,"pose I":0.5,"pose II":4.6},{"t":19,"pose I":1.0,"pose II":4.2},{"t":20,"pose I":1.3,"pose II":5.2},{"t":21,"pose I":0.8,"pose II":4.7},{"t":22,"pose I":1.1,"pose II":4.4},{"t":23,"pose I":0.7,"pose II":5.0},{"t":24,"pose I":1.2,"pose II":4.1},{"t":25,"pose I":0.9,"pose II":3.8},{"t":26,"pose I":1.3,"pose II":4.3},{"t":27,"pose I":1.7,"pose II":3.7},{"t":28,"pose I":1.4,"pose II":4.5},{"t":29,"pose I":1.9,"pose II":4.9},{"t":30,"pose I":1.5,"pose II":4.4},{"t":31,"pose I":1.8,"pose II":5.1},{"t":32,"pose I":1.3,"pose II":4.6},{"t":33,"pose I":2.0,"pose II":4.8},{"t":34,"pose I":1.6,"pose II":4.3},{"t":35,"pose I":2.35,"pose II":5.0},{"t":36,"pose I":1.7,"pose II":4.5},{"t":37,"pose I":1.9,"pose II":4.9},{"t":38,"pose I":1.5,"pose II":4.2},{"t":39,"pose I":1.8,"pose II":5.3},{"t":40,"pose I":1.4,"pose II":4.6},{"t":41,"pose I":1.7,"pose II":4.8},{"t":42,"pose I":1.3,"pose II":4.4},{"t":43,"pose I":1.6,"pose II":5.2},{"t":44,"pose I":1.2,"pose II":4.7},{"t":45,"pose I":0.9,"pose II":4.2},{"t":46,"pose I":1.3,"pose II":4.9},{"t":47,"pose I":1.0,"pose II":4.5},{"t":48,"pose I":1.2,"pose II":5.35},{"t":49,"pose I":0.8,"pose II":4.6},{"t":50,"pose I":1.1,"pose II":4.3},{"t":51,"pose I":0.9,"pose II":4.8},{"t":52,"pose I":1.0,"pose II":4.1},{"t":53,"pose I":0.7,"pose II":4.5},{"t":54,"pose I":0.9,"pose II":4.0},{"t":55,"pose I":0.6,"pose II":4.6},{"t":56,"pose I":0.8,"pose II":4.2},{"t":57,"pose I":1.0,"pose II":4.9},{"t":58,"pose I":0.6,"pose II":4.4},{"t":59,"pose I":0.8,"pose II":4.7},{"t":60,"pose I":0.5,"pose II":4.1},{"t":61,"pose I":0.9,"pose II":4.5},{"t":62,"pose I":0.7,"pose II":4.3},{"t":63,"pose I":1.1,"pose II":4.8},{"t":64,"pose I":1.4,"pose II":4.2},{"t":65,"pose I":0.9,"pose II":4.6},{"t":66,"pose I":1.3,"pose II":4.4},{"t":67,"pose I":1.0,"pose II":4.9},{"t":68,"pose I":2.0,"pose II":5.8},{"t":69,"pose I":1.2,"pose II":4.3},{"t":70,"pose I":1.5,"pose II":4.7},{"t":71,"pose I":1.0,"pose II":4.1},{"t":72,"pose I":1.3,"pose II":5.1},{"t":73,"pose I":0.9,"pose II":4.4},{"t":74,"pose I":1.2,"pose II":4.6},{"t":75,"pose I":1.4,"pose II":4.2},{"t":76,"pose I":1.3,"pose II":4.5},{"t":77,"pose I":1.5,"pose II":4.3},{"t":77.5,"pose I":3.6,"pose II":2.7},{"t":78,"pose I":2.6,"pose II":2.2},{"t":79,"pose I":2.4,"pose II":1.8},{"t":80,"pose I":4.4,"pose II":1.5},{"t":81,"pose I":3.5,"pose II":1.3},{"t":82,"pose I":4.0,"pose II":1.7},{"t":83,"pose I":3.6,"pose II":1.4},{"t":84,"pose I":4.2,"pose II":1.2},{"t":85,"pose I":3.7,"pose II":1.6},{"t":86,"pose I":3.4,"pose II":1.3},{"t":87,"pose I":3.9,"pose II":1.9},{"t":88,"pose I":3.6,"pose II":1.5},{"t":89,"pose I":4.3,"pose II":1.2},{"t":90,"pose I":3.8,"pose II":1.6},{"t":91,"pose I":4.1,"pose II":1.3},{"t":92,"pose I":3.5,"pose II":1.7},{"t":93,"pose I":3.9,"pose II":1.4},{"t":94,"pose I":3.3,"pose II":1.1},{"t":95,"pose I":4.2,"pose II":1.5},{"t":96,"pose I":3.7,"pose II":1.3},{"t":97,"pose I":4.5,"pose II":1.0},{"t":98,"pose I":3.9,"pose II":1.4},{"t":99,"pose I":3.6,"pose II":0.95},{"t":100,"pose I":4.0,"pose II":1.3},{"t":101,"pose I":3.4,"pose II":1.6},{"t":102,"pose I":4.3,"pose II":2.0},{"t":103,"pose I":3.8,"pose II":1.5},{"t":104,"pose I":4.1,"pose II":1.8},{"t":105,"pose I":3.7,"pose II":1.4},{"t":106,"pose I":4.6,"pose II":1.7},{"t":107,"pose I":3.9,"pose II":1.3},{"t":108,"pose I":4.4,"pose II":1.9},{"t":109,"pose I":4.1,"pose II":1.6},{"t":110,"pose I":4.5,"pose II":2.1},{"t":111,"pose I":4.2,"pose II":2.5},{"t":112,"pose I":4.7,"pose II":1.8},{"t":113,"pose I":4.3,"pose II":1.5},{"t":114,"pose I":4.6,"pose II":1.9},{"t":115,"pose I":4.2,"pose II":1.6},{"t":116,"pose I":5.0,"pose II":1.4},{"t":117,"pose I":4.4,"pose II":1.8},{"t":118,"pose I":4.7,"pose II":1.3},{"t":119,"pose I":4.3,"pose II":1.7},{"t":120,"pose I":4.6,"pose II":2.1},{"t":121,"pose I":4.2,"pose II":1.5},{"t":122,"pose I":4.8,"pose II":1.2},{"t":123,"pose I":4.4,"pose II":1.8},{"t":124,"pose I":5.1,"pose II":1.5},{"t":125,"pose I":4.3,"pose II":2.0},{"t":126,"pose I":4.0,"pose II":1.6},{"t":127,"pose I":4.4,"pose II":1.9},{"t":128,"pose I":4.1,"pose II":1.4},{"t":129,"pose I":4.5,"pose II":1.7},{"t":130,"pose I":4.2,"pose II":2.1},{"t":131,"pose I":5.7,"pose II":1.8},{"t":132,"pose I":5.9,"pose II":2.3},{"t":133,"pose I":5.6,"pose II":2.0},{"t":134,"pose I":6.0,"pose II":2.6},{"t":135,"pose I":5.7,"pose II":2.2},{"t":136,"pose I":6.2,"pose II":2.9},{"t":137,"pose I":5.9,"pose II":3.3},{"t":138,"pose I":6.3,"pose II":2.4},{"t":139,"pose I":5.8,"pose II":2.7},{"t":140,"pose I":6.2,"pose II":2.2},{"t":141,"pose I":5.5,"pose II":2.6},{"t":142,"pose I":6.1,"pose II":2.1},{"t":143,"pose I":5.9,"pose II":2.5},{"t":144,"pose I":6.2,"pose II":2.0},{"t":145,"pose I":5.8,"pose II":2.8},{"t":146,"pose I":6.1,"pose II":2.3},{"t":147,"pose I":6.3,"pose II":2.9},{"t":148,"pose I":6.0,"pose II":2.2},{"t":149,"pose I":6.1,"pose II":2.5},{"t":150,"pose I":5.35,"pose II":1.7}
],
"F": [
{"t":0,"pose I":4.45,"pose II":0.37},{"t":1,"pose I":3.6,"pose II":0.8},{"t":2,"pose I":3.9,"pose II":0.5},{"t":3,"pose I":3.4,"pose II":0.9},{"t":4,"pose I":3.7,"pose II":0.6},{"t":5,"pose I":3.3,"pose II":1.0},{"t":6,"pose I":3.8,"pose II":0.7},{"t":7,"pose I":3.5,"pose II":0.5},{"t":8,"pose I":3.9,"pose II":0.9},{"t":9,"pose I":3.4,"pose II":0.6},{"t":10,"pose I":3.7,"pose II":0.8},{"t":11,"pose I":4.1,"pose II":0.5},{"t":11.5,"pose II":1.6},{"t":12,"pose I":3.6,"pose II":0.3},{"t":13,"pose I":3.2,"pose II":0.8},{"t":14,"pose I":2.9,"pose II":0.6},{"t":15,"pose I":3.5,"pose II":0.9},{"t":16,"pose I":3.3,"pose II":0.5},{"t":17,"pose I":3.7,"pose II":0.7},{"t":18,"pose I":3.4,"pose II":0.4},{"t":19,"pose I":3.8,"pose II":0.8},{"t":20,"pose I":3.5,"pose II":0.6},{"t":21,"pose I":3.7,"pose II":0.9},{"t":22,"pose I":3.3,"pose II":0.5},{"t":23,"pose I":3.6,"pose II":0.7},{"t":24,"pose I":4.6,"pose II":0.4},{"t":25,"pose I":3.5,"pose II":0.8},{"t":26,"pose I":3.8,"pose II":0.6},{"t":27,"pose I":3.4,"pose II":0.9},{"t":28,"pose I":3.9,"pose II":0.7},{"t":29,"pose I":3.6,"pose II":1.0},{"t":30,"pose I":3.2,"pose II":0.8},{"t":31,"pose I":4.8,"pose II":0.9},{"t":32,"pose I":4.6,"pose II":1.1},{"t":33,"pose I":5.0,"pose II":0.8},{"t":34,"pose I":4.7,"pose II":1.2},{"t":35,"pose I":4.9,"pose II":0.9},{"t":36,"pose I":4.5,"pose II":1.3},{"t":37,"pose I":5.0,"pose II":1.0},{"t":38,"pose I":4.6,"pose II":1.2},{"t":39,"pose I":4.9,"pose II":1.4},{"t":40,"pose I":4.7,"pose II":1.1},{"t":41,"pose I":5.1,"pose II":1.3},{"t":42,"pose I":4.6,"pose II":1.0},{"t":43,"pose I":4.8,"pose II":1.2},{"t":44,"pose I":4.05,"pose II":1.4},{"t":45,"pose I":4.5,"pose II":1.1},{"t":46,"pose I":4.8,"pose II":1.3},{"t":47,"pose I":4.6,"pose II":1.0},{"t":48,"pose I":5.0,"pose II":1.2},{"t":49,"pose I":4.7,"pose II":1.1},{"t":50,"pose I":4.9,"pose II":1.4},{"t":51,"pose I":5.2,"pose II":1.5},{"t":52,"pose I":4.6,"pose II":1.1},{"t":53,"pose I":4.9,"pose II":1.3},{"t":54,"pose I":4.0,"pose II":1.0},{"t":55,"pose I":4.7,"pose II":1.2},{"t":56,"pose I":4.9,"pose II":1.1},{"t":57,"pose I":4.5,"pose II":1.4},{"t":58,"pose I":4.8,"pose II":1.0},{"t":59,"pose I":5.0,"pose II":1.3},{"t":60,"pose I":4.6,"pose II":1.1},{"t":61,"pose I":4.9,"pose II":1.2},{"t":62,"pose I":5.2,"pose II":1.0},{"t":63,"pose I":4.7,"pose II":1.3},{"t":64,"pose I":4.9,"pose II":1.1},{"t":65,"pose I":4.5,"pose II":1.4},{"t":66,"pose I":4.3,"pose II":1.0},{"t":67,"pose I":3.9,"pose II":1.2},{"t":68,"pose I":4.2,"pose II":0.9},{"t":69,"pose I":3.6,"pose II":1.1},{"t":70,"pose I":3.8,"pose II":0.8},{"t":71,"pose I":4.1,"pose II":1.0},{"t":72,"pose I":3.6,"pose II":0.8},{"t":73,"pose I":4.4,"pose II":1.1},{"t":74,"pose I":4.2,"pose II":0.9},{"t":75,"pose I":4.6,"pose II":1.0},{"t":76,"pose I":4.3,"pose II":0.7},{"t":77,"pose I":4.5,"pose II":0.8},{"t":78,"pose I":4.2,"pose II":1.1},{"t":79,"pose I":4.6,"pose II":0.9},{"t":80,"pose I":4.4,"pose II":1.2},{"t":81,"pose I":4.7,"pose II":1.0},{"t":82,"pose I":4.3,"pose II":1.3},{"t":83,"pose I":4.6,"pose II":1.1},{"t":84,"pose I":4.4,"pose II":1.4},{"t":85,"pose I":4.7,"pose II":1.2},{"t":86,"pose I":4.3,"pose II":1.5},{"t":87,"pose I":4.5,"pose II":1.2},{"t":88,"pose I":4.2,"pose II":1.4},{"t":89,"pose I":4.6,"pose II":1.3},{"t":90,"pose I":5.1,"pose II":1.6},{"t":91,"pose I":4.8,"pose II":1.3},{"t":92,"pose I":4.5,"pose II":1.5},{"t":93,"pose I":4.8,"pose II":1.2},{"t":94,"pose I":4.6,"pose II":1.4},{"t":95,"pose I":4.9,"pose II":1.3},{"t":96,"pose I":4.4,"pose II":1.6},{"t":97,"pose I":4.7,"pose II":1.2},{"t":98,"pose I":4.5,"pose II":1.4},{"t":99,"pose I":4.8,"pose II":1.3},{"t":100,"pose I":4.4,"pose II":1.5},{"t":101,"pose I":4.9,"pose II":1.2},{"t":102,"pose I":4.6,"pose II":1.4},{"t":103,"pose I":4.8,"pose II":1.6},{"t":104,"pose I":4.5,"pose II":1.3},{"t":105,"pose I":4.7,"pose II":1.5},{"t":106,"pose I":4.3,"pose II":1.7},{"t":107,"pose I":4.8,"pose II":1.3},{"t":108,"pose I":4.5,"pose II":1.6},{"t":109,"pose I":4.9,"pose II":1.2},{"t":110,"pose I":4.6,"pose II":1.4},{"t":111,"pose I":4.8,"pose II":1.1},{"t":112,"pose I":4.4,"pose II":1.3},{"t":113,"pose I":4.7,"pose II":1.0},{"t":114,"pose I":4.5,"pose II":1.2},{"t":115,"pose I":4.9,"pose II":1.1},{"t":116,"pose I":4.6,"pose II":1.3},{"t":117,"pose I":4.8,"pose II":1.0},{"t":118,"pose I":4.4,"pose II":1.2},{"t":119,"pose I":4.7,"pose II":0.9},{"t":120,"pose I":4.5,"pose II":1.1},{"t":121,"pose I":4.2,"pose II":0.7},{"t":122,"pose I":3.6,"pose II":1.0},{"t":123,"pose I":4.5,"pose II":1.2},{"t":124,"pose I":4.8,"pose II":1.1},{"t":125,"pose I":4.6,"pose II":1.3},{"t":126,"pose I":5.1,"pose II":1.0},{"t":127,"pose I":4.8,"pose II":1.2},{"t":128,"pose I":4.9,"pose II":1.1},{"t":129,"pose I":4.6,"pose II":1.4},{"t":130,"pose I":4.8,"pose II":1.2},{"t":131,"pose I":4.5,"pose II":1.3},{"t":132,"pose I":4.9,"pose II":1.0},{"t":133,"pose I":4.6,"pose II":1.2},{"t":134,"pose I":4.8,"pose II":1.1},{"t":135,"pose I":4.4,"pose II":1.4},{"t":136,"pose I":4.7,"pose II":1.1},{"t":137,"pose I":5.1,"pose II":1.3},{"t":138,"pose I":4.6,"pose II":1.0},{"t":139,"pose I":4.9,"pose II":1.2},{"t":140,"pose I":4.5,"pose II":1.1},{"t":141,"pose I":5.0,"pose II":1.3},{"t":142,"pose I":4.6,"pose II":1.0},{"t":143,"pose I":4.8,"pose II":1.2},{"t":144,"pose I":4.5,"pose II":1.1},{"t":145,"pose I":4.9,"pose II":1.4},{"t":146,"pose I":4.6,"pose II":1.2},{"t":147,"pose I":4.8,"pose II":1.1},{"t":148,"pose I":4.6,"pose II":1.3},{"t":149,"pose I":4.7,"pose II":1.2},{"t":150,"pose I":4.8,"pose II":1.35}
]
},
"concat": [
{
 "width": 335, "height": 118,
 "title": {"text": "γ-butyrobetaine in conf I (subunit A in run 1c)", "subtitle": "(A)", "offset": 1, "subtitlePadding": 11},
 "data": {"name": "A"},
 "transform": [{"fold": ["site 1", "site 3"], "as": ["s", "v"]}, {"filter": "isValid(datum.v)"}],
 "mark": {"type": "line", "strokeWidth": 1.6, "clip": true},
 "encoding": {
  "x": {"field": "t", "type": "quantitative", "scale": {"domain": [0, 150], "nice": false}, "axis": {"values": [0,15,30,45,60,75,90,105,120,135,150], "labels": false, "grid": false, "title": null}},
  "y": {"field": "v", "type": "quantitative", "scale": {"domain": [0, 30], "nice": false, "zero": false}, "axis": {"values": [0,5,10,15,20,25,30], "labelExpr": "datum.value % 10 === 0 ? datum.label : ''", "grid": true, "gridOpacity": {"condition": {"test": "datum.value % 10 === 0", "value": 1}, "value": 0}, "title": ["displacement of", "substrate (Å)"], "titleX": -71.5, "titleY": 59, "titleAngle": -90, "titleBaseline": "top", "titleAlign": "center"}},
  "color": {"field": "s", "type": "nominal", "scale": {"domain": ["site 1", "site 3"], "range": ["#000000", "#2a8a2a"]}, "legend": {"title": null, "orient": "none", "legendX": 34, "legendY": 2, "direction": "vertical"}}
 }
},
{
 "width": 338, "height": 118,
 "title": {"text": "L-carnitine in conf II (subunit A in run 2c)", "subtitle": "(B)", "offset": 1, "subtitlePadding": 11},
 "data": {"name": "B"},
 "transform": [{"fold": ["site 1", "site 2", "site 3", "site 4"], "as": ["s", "v"]}, {"filter": "isValid(datum.v)"}],
 "mark": {"type": "line", "strokeWidth": 1.6, "clip": true},
 "encoding": {
  "x": {"field": "t", "type": "quantitative", "scale": {"domain": [0, 150], "nice": false}, "axis": {"values": [0,15,30,45,60,75,90,105,120,135,150], "labels": false, "grid": false, "title": null}},
  "y": {"field": "v", "type": "quantitative", "scale": {"domain": [0, 30], "nice": false, "zero": false}, "axis": {"values": [0,5,10,15,20,25,30], "labels": false, "grid": true, "gridOpacity": {"condition": {"test": "datum.value % 10 === 0", "value": 1}, "value": 0}, "title": null}},
  "color": {"field": "s", "type": "nominal", "scale": {"domain": ["site 1", "site 2", "site 3", "site 4"], "range": ["#000000", "#ff0000", "#2a8a2a", "#2d6fe6"]}, "legend": {"title": null, "orient": "none", "legendX": 227, "legendY": 40, "direction": "horizontal", "columns": 2, "columnPadding": 12}}
 }
},
{
 "width": 335, "height": 120,
 "title": {"text": "(C)", "offset": -1},
 "data": {"name": "C"},
 "transform": [{"fold": ["Arg170", "Arg256", "Arg262", "Arg337"], "as": ["s", "v"]}, {"filter": "isValid(datum.v)"}],
 "mark": {"type": "line", "strokeWidth": 1.6, "clip": true},
 "encoding": {
  "x": {"field": "t", "type": "quantitative", "scale": {"domain": [0, 150], "nice": false}, "axis": {"values": [0,15,30,45,60,75,90,105,120,135,150], "labels": false, "grid": false, "title": null}},
  "y": {"field": "v", "type": "quantitative", "scale": {"domain": [-80, 20], "nice": false, "zero": false}, "axis": {"values": [-80,-60,-40,-20,0,20], "grid": true, "title": ["interaction energy", "(kcal/mol)"], "titleX": -71.5, "titleY": 60, "titleAngle": -90, "titleBaseline": "top", "titleAlign": "center"}},
  "color": {"field": "s", "type": "nominal", "scale": {"domain": ["Arg170", "Arg256", "Arg262", "Arg337"], "range": ["#2a8a2a", "#2065b8", "#1aa7ec", "#cc0000"]}, "legend": {"title": null, "orient": "none", "legendX": 4, "legendY": 77, "direction": "horizontal", "columns": 2, "columnPadding": 9}}
 }
},
{
 "width": 338, "height": 120,
 "title": {"text": "(D)", "offset": -1},
 "data": {"name": "D"},
 "transform": [{"fold": ["Arg170", "Arg256", "Arg262", "Arg337"], "as": ["s", "v"]}, {"filter": "isValid(datum.v)"}],
 "mark": {"type": "line", "strokeWidth": 1.6, "clip": true},
 "encoding": {
  "x": {"field": "t", "type": "quantitative", "scale": {"domain": [0, 150], "nice": false}, "axis": {"values": [0,15,30,45,60,75,90,105,120,135,150], "labels": false, "grid": false, "title": null}},
  "y": {"field": "v", "type": "quantitative", "scale": {"domain": [-80, 20], "nice": false, "zero": false}, "axis": {"values": [-80,-60,-40,-20,0,20], "labels": false, "grid": true, "title": null}},
  "color": {"field": "s", "type": "nominal", "scale": {"domain": ["Arg170", "Arg256", "Arg262", "Arg337"], "range": ["#2a8a2a", "#2065b8", "#1aa7ec", "#cc0000"]}, "legend": null}
 }
},
{
 "width": 335, "height": 123,
 "title": {"text": "(E)", "offset": -2},
 "data": {"name": "E"},
 "transform": [{"fold": ["pose I", "pose II"], "as": ["s", "v"]}, {"filter": "isValid(datum.v)"}],
 "mark": {"type": "line", "strokeWidth": 1.6, "clip": true},
 "encoding": {
  "x": {"field": "t", "type": "quantitative", "scale": {"domain": [0, 150], "nice": false}, "axis": {"values": [0,15,30,45,60,75,90,105,120,135,150], "labelExpr": "datum.value % 30 === 0 ? datum.label : ''", "grid": false, "title": "time (ns)", "titleFontSize": 13, "titlePadding": 14, "labelPadding": -2}},
  "y": {"field": "v", "type": "quantitative", "scale": {"domain": [0, 6], "nice": false, "zero": false}, "axis": {"values": [0,1,2,3,4,5,6], "labelExpr": "datum.value % 2 === 0 ? datum.label : ''", "grid": true, "gridOpacity": {"condition": {"test": "datum.value % 2 === 0", "value": 1}, "value": 0}, "title": ["displacement at", "Thr100 (Å)"], "titleX": -71.5, "titleY": 61.5, "titleAngle": -90, "titleBaseline": "top", "titleAlign": "center"}},
  "color": {"field": "s", "type": "nominal", "scale": {"domain": ["pose I", "pose II"], "range": ["#000000", "#ff0000"]}, "legend": {"title": null, "orient": "none", "legendX": 211, "legendY": 104, "direction": "horizontal", "columns": 2, "columnPadding": 10, "labelFontStyle": "italic"}}
 }
},
{
 "width": 338, "height": 123,
 "title": {"text": "(F)", "offset": -2},
 "data": {"name": "F"},
 "transform": [{"fold": ["pose I", "pose II"], "as": ["s", "v"]}, {"filter": "isValid(datum.v)"}],
 "mark": {"type": "line", "strokeWidth": 1.6, "clip": true},
 "encoding": {
  "x": {"field": "t", "type": "quantitative", "scale": {"domain": [0, 150], "nice": false}, "axis": {"values": [0,15,30,45,60,75,90,105,120,135,150], "labelExpr": "datum.value % 30 === 0 ? datum.label : ''", "grid": false, "title": "time (ns)", "titleFontSize": 13, "titlePadding": 14, "labelPadding": -2}},
  "y": {"field": "v", "type": "quantitative", "scale": {"domain": [0, 6], "nice": false, "zero": false}, "axis": {"values": [0,1,2,3,4,5,6], "labels": false, "grid": true, "gridOpacity": {"condition": {"test": "datum.value % 2 === 0", "value": 1}, "value": 0}, "title": null}},
  "color": {"field": "s", "type": "nominal", "scale": {"domain": ["pose I", "pose II"], "range": ["#000000", "#ff0000"]}, "legend": null}
 }
}
]
}
